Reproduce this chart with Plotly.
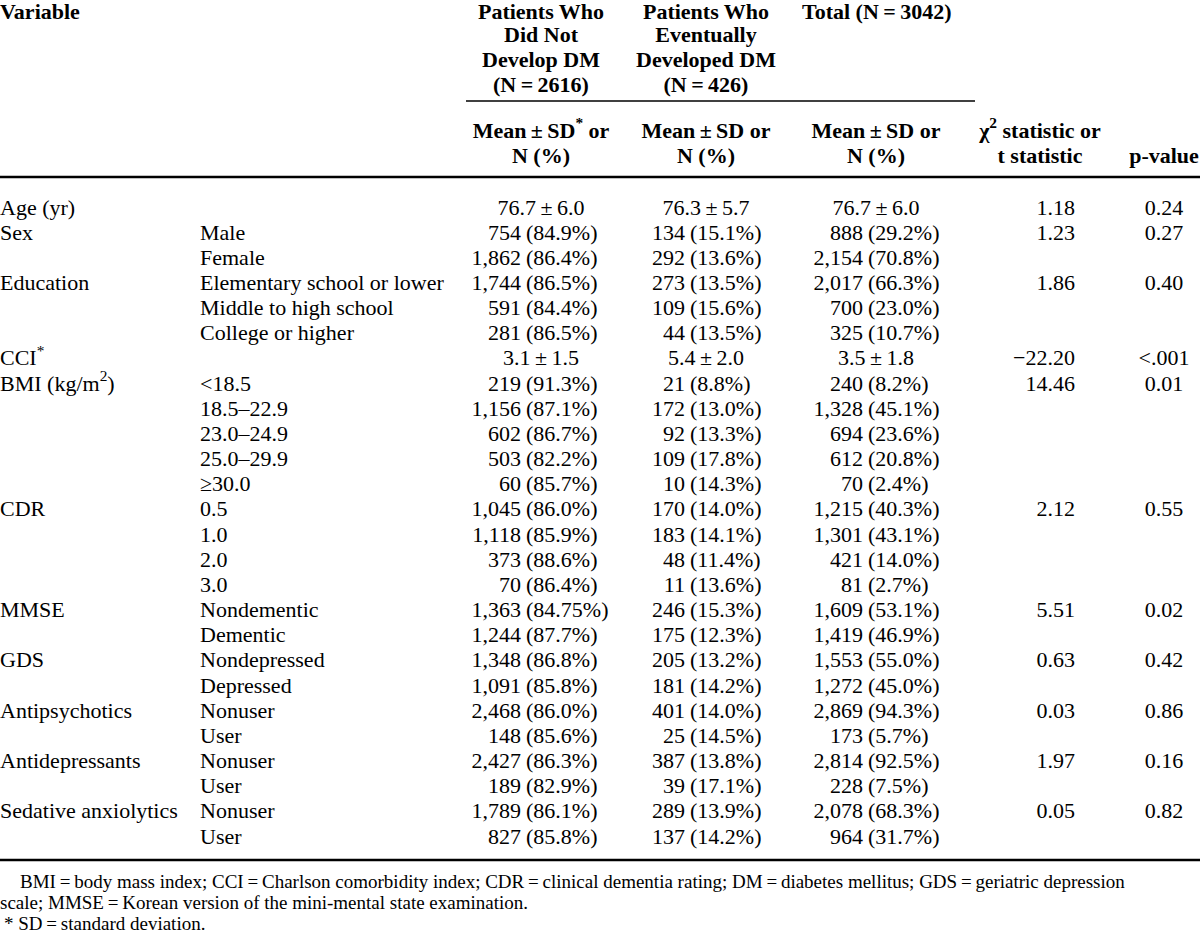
import plotly.graph_objects as go

# ---------------- data ----------------
variables = ["Age (yr)", "Sex", "", "Education", "", "", "CCI<sup>*</sup>", "BMI (kg/m<sup>2</sup>)",
             "", "", "", "", "CDR", "", "", "", "MMSE", "", "GDS", "", "Antipsychotics", "",
             "Antidepressants", "", "Sedative anxiolytics", ""]
subcats = ["", "Male", "Female", "Elementary school or lower", "Middle to high school", "College or higher",
           "", "&lt;18.5", "18.5\u201322.9", "23.0\u201324.9", "25.0\u201329.9", "\u226530.0",
           "0.5", "1.0", "2.0", "3.0", "Nondementic", "Dementic", "Nondepressed", "Depressed",
           "Nonuser", "User", "Nonuser", "User", "Nonuser", "User"]
no_dm = ["76.7 \u00b1 6.0", "754 (84.9%)", "1,862 (86.4%)", "1,744 (86.5%)", "591 (84.4%)", "281 (86.5%)",
         "3.1 \u00b1 1.5", "219 (91.3%)", "1,156 (87.1%)", "602 (86.7%)", "503 (82.2%)", "60 (85.7%)",
         "1,045 (86.0%)", "1,118 (85.9%)", "373 (88.6%)", "70 (86.4%)", "1,363 (84.75%)", "1,244 (87.7%)",
         "1,348 (86.8%)", "1,091 (85.8%)", "2,468 (86.0%)", "148 (85.6%)", "2,427 (86.3%)", "189 (82.9%)",
         "1,789 (86.1%)", "827 (85.8%)"]
dm = ["76.3 \u00b1 5.7", "134 (15.1%)", "292 (13.6%)", "273 (13.5%)", "109 (15.6%)", "44 (13.5%)",
      "5.4 \u00b1 2.0", "21 (8.8%)", "172 (13.0%)", "92 (13.3%)", "109 (17.8%)", "10 (14.3%)",
      "170 (14.0%)", "183 (14.1%)", "48 (11.4%)", "11 (13.6%)", "246 (15.3%)", "175 (12.3%)",
      "205 (13.2%)", "181 (14.2%)", "401 (14.0%)", "25 (14.5%)", "387 (13.8%)", "39 (17.1%)",
      "289 (13.9%)", "137 (14.2%)"]
total = ["76.7 \u00b1 6.0", "888 (29.2%)", "2,154 (70.8%)", "2,017 (66.3%)", "700 (23.0%)", "325 (10.7%)",
         "3.5 \u00b1 1.8", "240 (8.2%)", "1,328 (45.1%)", "694 (23.6%)", "612 (20.8%)", "70 (2.4%)",
         "1,215 (40.3%)", "1,301 (43.1%)", "421 (14.0%)", "81 (2.7%)", "1,609 (53.1%)", "1,419 (46.9%)",
         "1,553 (55.0%)", "1,272 (45.0%)", "2,869 (94.3%)", "173 (5.7%)", "2,814 (92.5%)", "228 (7.5%)",
         "2,078 (68.3%)", "964 (31.7%)"]
stat = ["1.18", "1.23", "", "1.86", "", "", "\u221222.20", "14.46", "", "", "", "", "2.12", "", "", "",
        "5.51", "", "0.63", "", "0.03", "", "1.97", "", "0.05", ""]
pval = ["0.24", "0.27", "", "0.40", "", "", "&lt;.001", "0.01", "", "", "", "", "0.55", "", "", "",
        "0.02", "", "0.42", "", "0.86", "", "0.16", "", "0.82", ""]

header_groups = [
    ["Patients Who", "Did Not", "Develop DM", "(N\u2009=\u20092616)"],
    ["Patients Who", "Eventually", "Developed DM", "(N\u2009=\u2009426)"],
]
sub_headers = [
    ["Mean\u2009\u00b1\u2009SD<sup>*</sup> or", "N (%)"],
    ["Mean\u2009\u00b1\u2009SD or", "N (%)"],
    ["Mean\u2009\u00b1\u2009SD or", "N (%)"],
    ["\u03c7<sup>2</sup> statistic or", "t statistic"],
]
footnotes = [
    "BMI\u2009=\u2009body mass index; CCI\u2009=\u2009Charlson comorbidity index; CDR\u2009=\u2009clinical dementia rating; "
    "DM\u2009=\u2009diabetes mellitus; GDS\u2009=\u2009geriatric depression",
    "scale; MMSE\u2009=\u2009Korean version of the mini-mental state examination.",
    "* SD\u2009=\u2009standard deviation.",
]

# ---------------- layout constants ----------------
W, H = 1200, 936
FONT = "Liberation Serif, Times New Roman, serif"
FS = 22
ROW0, ROWH = 209, 25.16
rows_y = [ROW0 + i * ROWH for i in range(len(variables))]

X_VAR, X_SUB = 0, 200
num_cols = [  # (paren_x, mean_center)
    (526, 541),
    (690, 706),
    (868, 876),
]
X_STAT_R = 1075
X_P_C = 1164

fig = go.Figure()


def text_trace(xs, ys, texts, pos, size=FS, bold=False):
    pts = [(x, y, t) for x, y, t in zip(xs, ys, texts) if t]
    if not pts:
        return
    xs, ys, texts = zip(*pts)
    if bold:
        texts = ["<b>" + t + "</b>" for t in texts]
    fig.add_trace(go.Scatter(
        x=list(xs), y=list(ys), text=list(texts), mode="text", textposition=pos,
        textfont=dict(family=FONT, size=size, color="black"),
        hoverinfo="skip", showlegend=False, cliponaxis=False))


# body: first two columns
text_trace([X_VAR] * len(variables), rows_y, variables, "middle right")
text_trace([X_SUB] * len(subcats), rows_y, subcats, "middle right")

# numeric columns
for (px, mc), col in zip(num_cols, [no_dm, dm, total]):
    cnt_x, cnt_y, cnt_t = [], [], []
    pct_x, pct_y, pct_t = [], [], []
    mean_x, mean_y, mean_t = [], [], []
    for y, v in zip(rows_y, col):
        if "(" in v:
            c, p = v.split(" (")
            cnt_x.append(px - 5); cnt_y.append(y); cnt_t.append(c)
            pct_x.append(px); pct_y.append(y); pct_t.append("(" + p)
        else:
            mean_x.append(mc); mean_y.append(y); mean_t.append(v.replace(" \u00b1 ", "\u2009\u00b1\u2009"))
    text_trace(cnt_x, cnt_y, cnt_t, "middle left")
    text_trace(pct_x, pct_y, pct_t, "middle right")
    text_trace(mean_x, mean_y, mean_t, "middle center")

text_trace([X_STAT_R] * len(stat), rows_y, stat, "middle left")
text_trace([X_P_C] * len(pval), rows_y, pval, "middle center")

# headers
HY = [13.5, 36.5, 61, 86]
text_trace([0], [HY[0]], ["Variable"], "middle right", bold=True)
for (px, mc), lines in zip(num_cols[:2], header_groups):
    text_trace([mc] * len(lines), HY[:len(lines)], lines, "middle center", bold=True)
text_trace([802], [HY[0]], ["Total (N\u2009=\u20093042)"], "middle right", bold=True)

SHY = [132, 157]
sub_centers = [num_cols[0][1], num_cols[1][1], num_cols[2][1], 1040]
for c, lines in zip(sub_centers, sub_headers):
    text_trace([c] * len(lines), SHY, lines, "middle center", bold=True)
text_trace([1164], [SHY[1]], ["p-value"], "middle center", bold=True)

# footnotes
text_trace([20, 0, 4], [883, 904, 925], footnotes, "middle right", size=19)

# rules
fig.add_shape(type="line", x0=466, x1=975, y0=101, y1=101, xref="x", yref="y", line=dict(color="black", width=1.5))
fig.add_shape(type="line", x0=0, x1=W, y0=177, y1=177, xref="x", yref="y", line=dict(color="black", width=2.5))
fig.add_shape(type="line", x0=0, x1=W, y0=860, y1=860, xref="x", yref="y", line=dict(color="black", width=2.5))

fig.update_layout(
    width=W, height=H, margin=dict(l=0, r=0, t=0, b=0),
    paper_bgcolor="white", plot_bgcolor="white",
    xaxis=dict(range=[0, W], visible=False, fixedrange=True),
    yaxis=dict(range=[H, 0], visible=False, fixedrange=True),
)
fig.write_html("out.html", config={"displayModeBar": False, "staticPlot": True},
               post_script="document.body.style.margin='0';document.body.style.overflow='hidden';")
